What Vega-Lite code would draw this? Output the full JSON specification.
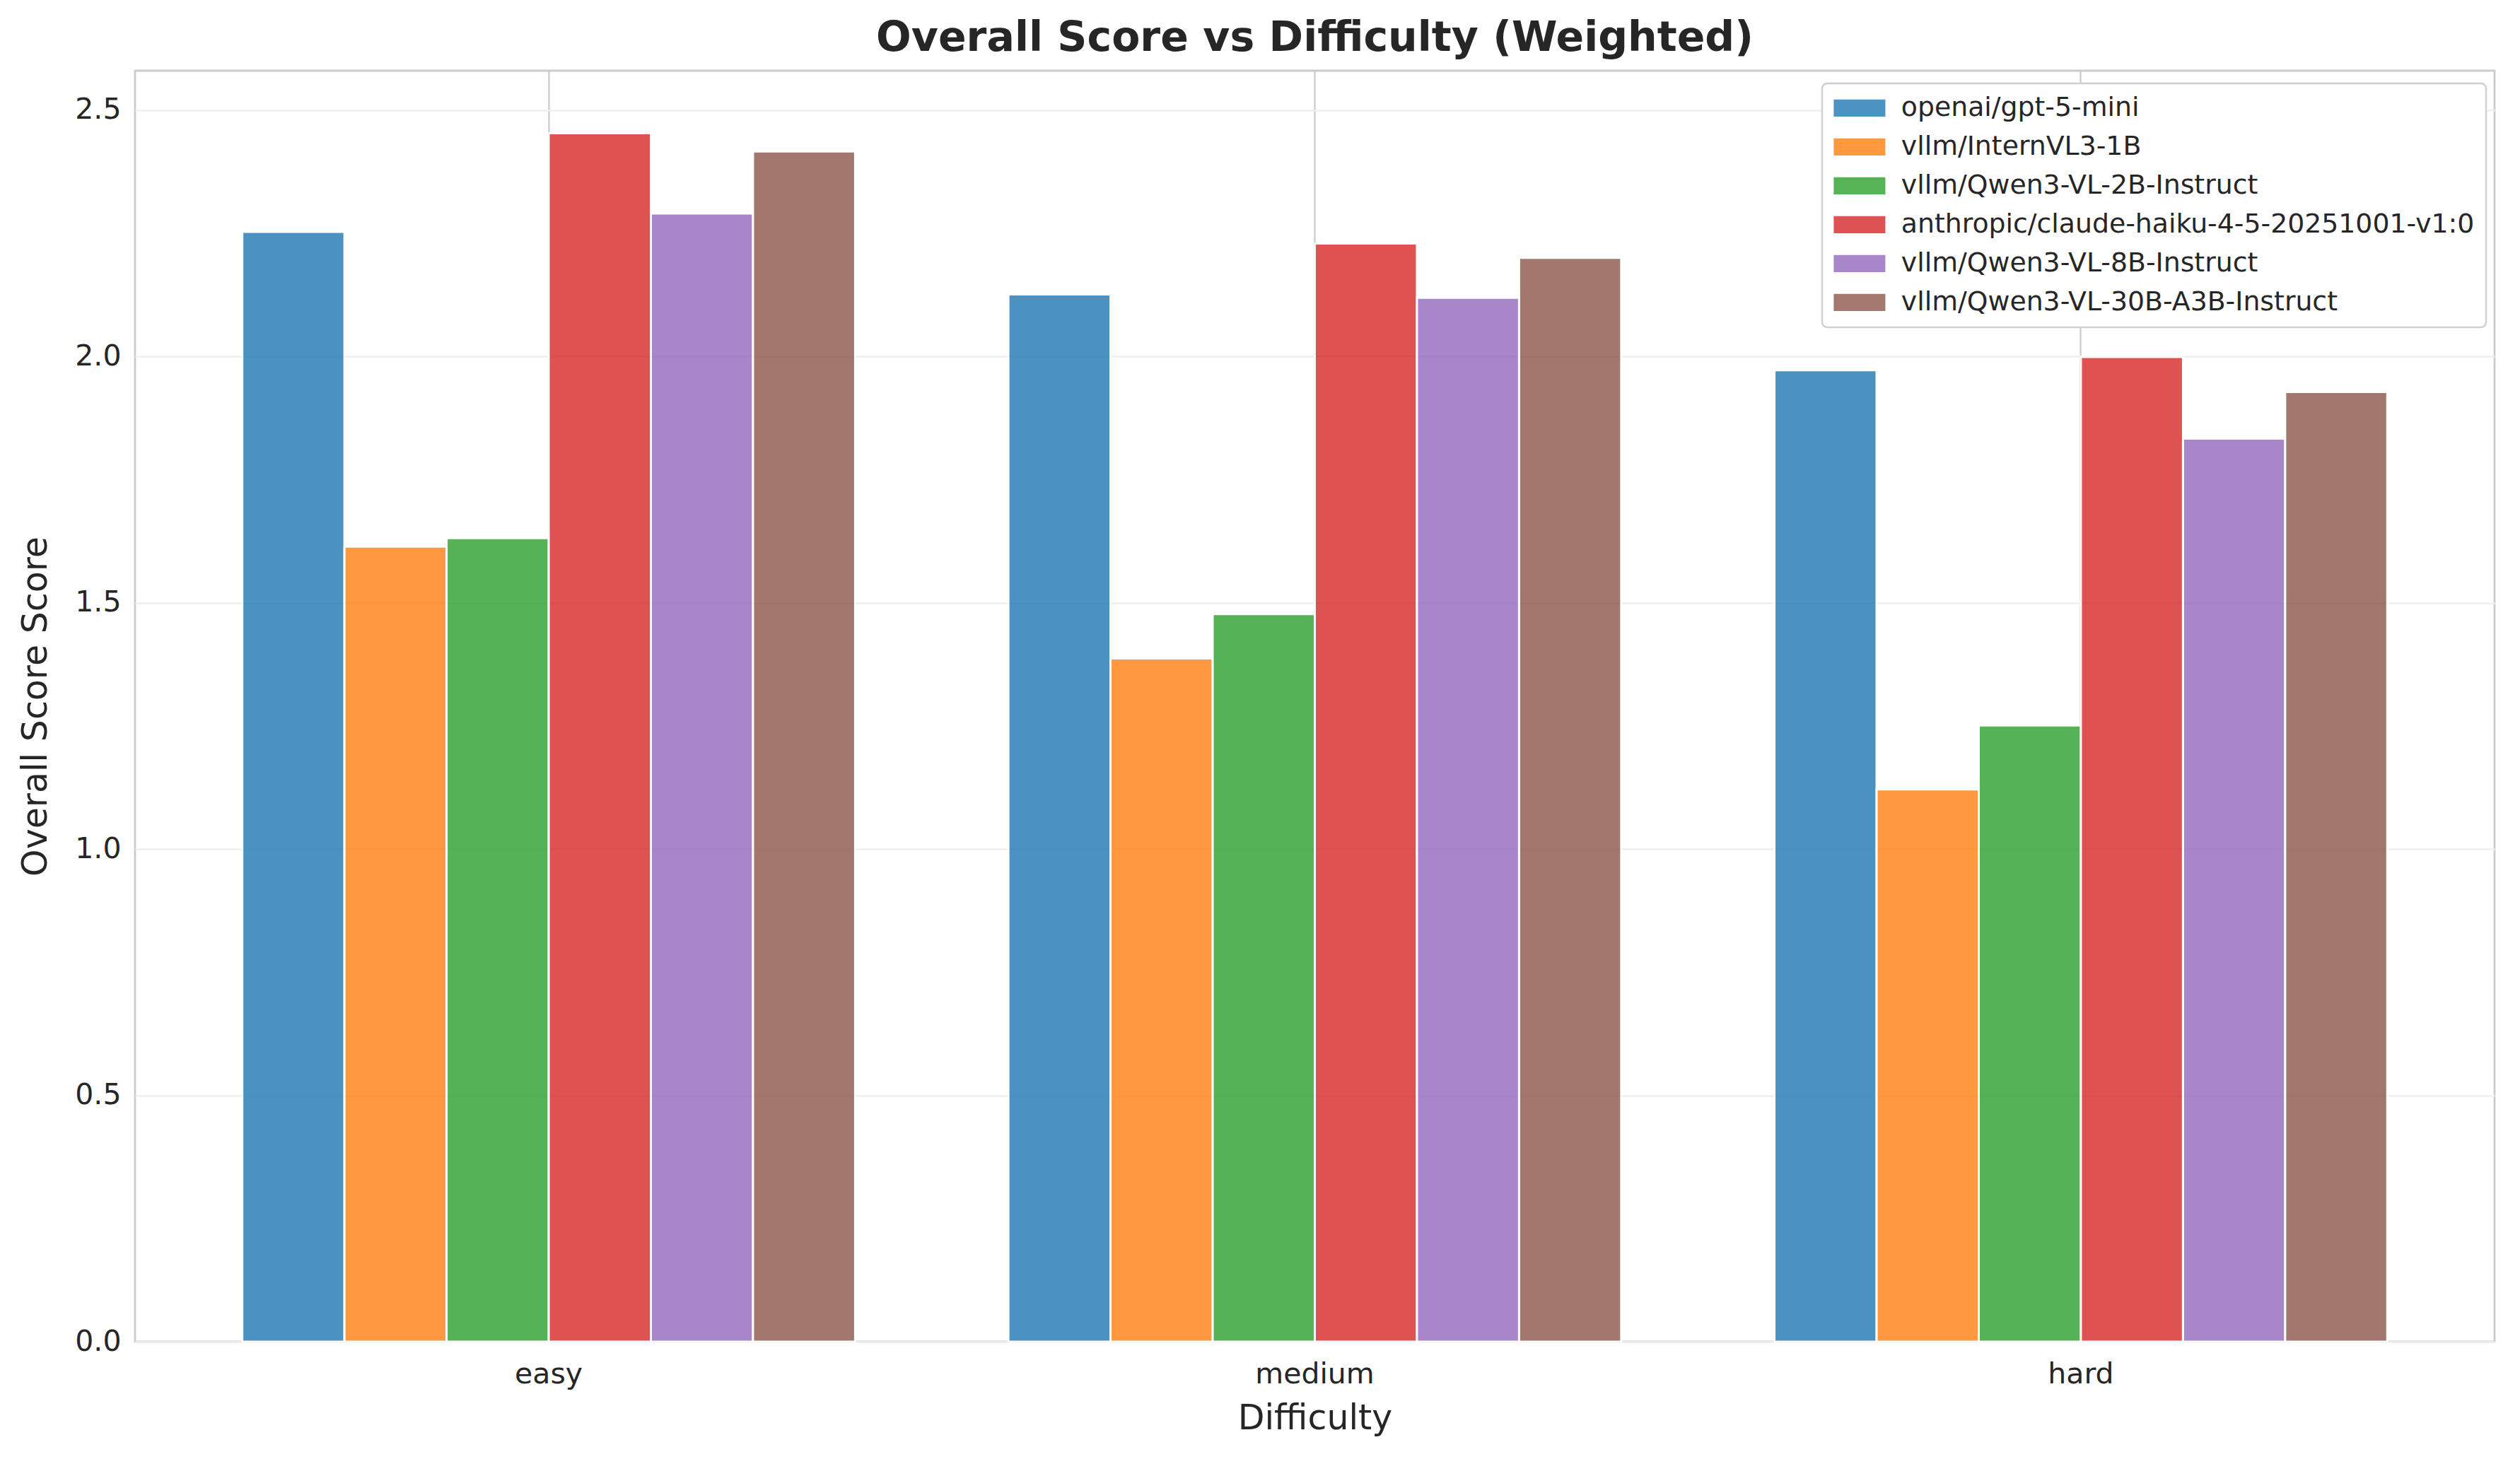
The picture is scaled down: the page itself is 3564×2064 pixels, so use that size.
{
  "$schema": "https://vega.github.io/schema/vega-lite/v6.json",
  "autosize": {"type": "none"},
  "padding": {"left": 191, "top": 100, "right": 36, "bottom": 166},
  "width": 3337,
  "height": 1798,
  "background": "white",
  "title": {
    "text": "Overall Score vs Difficulty (Weighted)",
    "font": "DejaVu Sans",
    "fontSize": 58.5,
    "fontWeight": "bold",
    "color": "#262626",
    "anchor": "middle",
    "offset": 16
  },
  "data": {
    "values": [
      {"difficulty": "easy", "model": "openai/gpt-5-mini", "score": 2.253},
      {"difficulty": "easy", "model": "vllm/InternVL3-1B", "score": 1.614},
      {"difficulty": "easy", "model": "vllm/Qwen3-VL-2B-Instruct", "score": 1.631},
      {"difficulty": "easy", "model": "anthropic/claude-haiku-4-5-20251001-v1:0", "score": 2.453},
      {"difficulty": "easy", "model": "vllm/Qwen3-VL-8B-Instruct", "score": 2.290},
      {"difficulty": "easy", "model": "vllm/Qwen3-VL-30B-A3B-Instruct", "score": 2.416},
      {"difficulty": "medium", "model": "openai/gpt-5-mini", "score": 2.126},
      {"difficulty": "medium", "model": "vllm/InternVL3-1B", "score": 1.387},
      {"difficulty": "medium", "model": "vllm/Qwen3-VL-2B-Instruct", "score": 1.477},
      {"difficulty": "medium", "model": "anthropic/claude-haiku-4-5-20251001-v1:0", "score": 2.229},
      {"difficulty": "medium", "model": "vllm/Qwen3-VL-8B-Instruct", "score": 2.119},
      {"difficulty": "medium", "model": "vllm/Qwen3-VL-30B-A3B-Instruct", "score": 2.200},
      {"difficulty": "hard", "model": "openai/gpt-5-mini", "score": 1.972},
      {"difficulty": "hard", "model": "vllm/InternVL3-1B", "score": 1.121},
      {"difficulty": "hard", "model": "vllm/Qwen3-VL-2B-Instruct", "score": 1.251},
      {"difficulty": "hard", "model": "anthropic/claude-haiku-4-5-20251001-v1:0", "score": 1.999},
      {"difficulty": "hard", "model": "vllm/Qwen3-VL-8B-Instruct", "score": 1.833},
      {"difficulty": "hard", "model": "vllm/Qwen3-VL-30B-A3B-Instruct", "score": 1.928}
    ]
  },
  "mark": {"type": "bar", "opacity": 0.8, "stroke": "white", "strokeWidth": 3},
  "encoding": {
    "x": {
      "field": "difficulty",
      "type": "nominal",
      "sort": ["easy", "medium", "hard"],
      "scale": {"paddingInner": 0.2, "paddingOuter": 0.14},
      "axis": {
        "title": "Difficulty",
        "labelAngle": 0,
        "grid": true,
        "gridColor": "#cccccc",
        "gridWidth": 2.3,
        "bandPosition": 0.5,
        "ticks": false,
        "domain": false,
        "labelPadding": 26,
        "titlePadding": 18
      }
    },
    "xOffset": {
      "field": "model",
      "type": "nominal",
      "sort": ["openai/gpt-5-mini", "vllm/InternVL3-1B", "vllm/Qwen3-VL-2B-Instruct", "anthropic/claude-haiku-4-5-20251001-v1:0", "vllm/Qwen3-VL-8B-Instruct", "vllm/Qwen3-VL-30B-A3B-Instruct"],
      "scale": {"paddingInner": 0, "paddingOuter": 0}
    },
    "y": {
      "field": "score",
      "type": "quantitative",
      "scale": {"domain": [0, 2.58], "nice": false, "zero": true},
      "axis": {
        "title": "Overall Score Score",
        "values": [0, 0.5, 1, 1.5, 2, 2.5],
        "format": ".1f",
        "grid": true,
        "gridColor": "#efefef",
        "gridWidth": 2.3,
        "ticks": false,
        "domain": false,
        "labelPadding": 20,
        "titlePadding": 30
      }
    },
    "color": {
      "field": "model",
      "type": "nominal",
      "sort": ["openai/gpt-5-mini", "vllm/InternVL3-1B", "vllm/Qwen3-VL-2B-Instruct", "anthropic/claude-haiku-4-5-20251001-v1:0", "vllm/Qwen3-VL-8B-Instruct", "vllm/Qwen3-VL-30B-A3B-Instruct"],
      "scale": {
        "domain": ["openai/gpt-5-mini", "vllm/InternVL3-1B", "vllm/Qwen3-VL-2B-Instruct", "anthropic/claude-haiku-4-5-20251001-v1:0", "vllm/Qwen3-VL-8B-Instruct", "vllm/Qwen3-VL-30B-A3B-Instruct"],
        "range": ["#1f77b4", "#ff7f0e", "#2ca02c", "#d62728", "#9467bd", "#8c564b"]
      },
      "legend": {
        "title": null,
        "orient": "none",
        "legendX": 2386,
        "legendY": 18,
        "padding": 16,
        "fillColor": "white",
        "strokeColor": "#d0d0d0",
        "cornerRadius": 7,
        "symbolType": "M-2,-0.66L2,-0.66L2,0.66L-2,0.66Z",
        "symbolSize": 1332,
        "symbolOffset": 18,
        "symbolOpacity": 0.8,
        "symbolStrokeWidth": 0,
        "labelFont": "DejaVu Sans",
        "labelFontSize": 37.8,
        "labelColor": "#262626",
        "labelLimit": 1200,
        "labelOffset": 40,
        "rowPadding": 16
      }
    }
  },
  "config": {
    "font": "DejaVu Sans",
    "view": {"stroke": "#cccccc", "strokeWidth": 2.8},
    "legend": {"strokeWidth": 2.5},
    "axis": {
      "labelFont": "DejaVu Sans",
      "labelFontSize": 41,
      "labelColor": "#262626",
      "titleFont": "DejaVu Sans",
      "titleFontSize": 49,
      "titleFontWeight": "normal",
      "titleColor": "#262626"
    }
  }
}
